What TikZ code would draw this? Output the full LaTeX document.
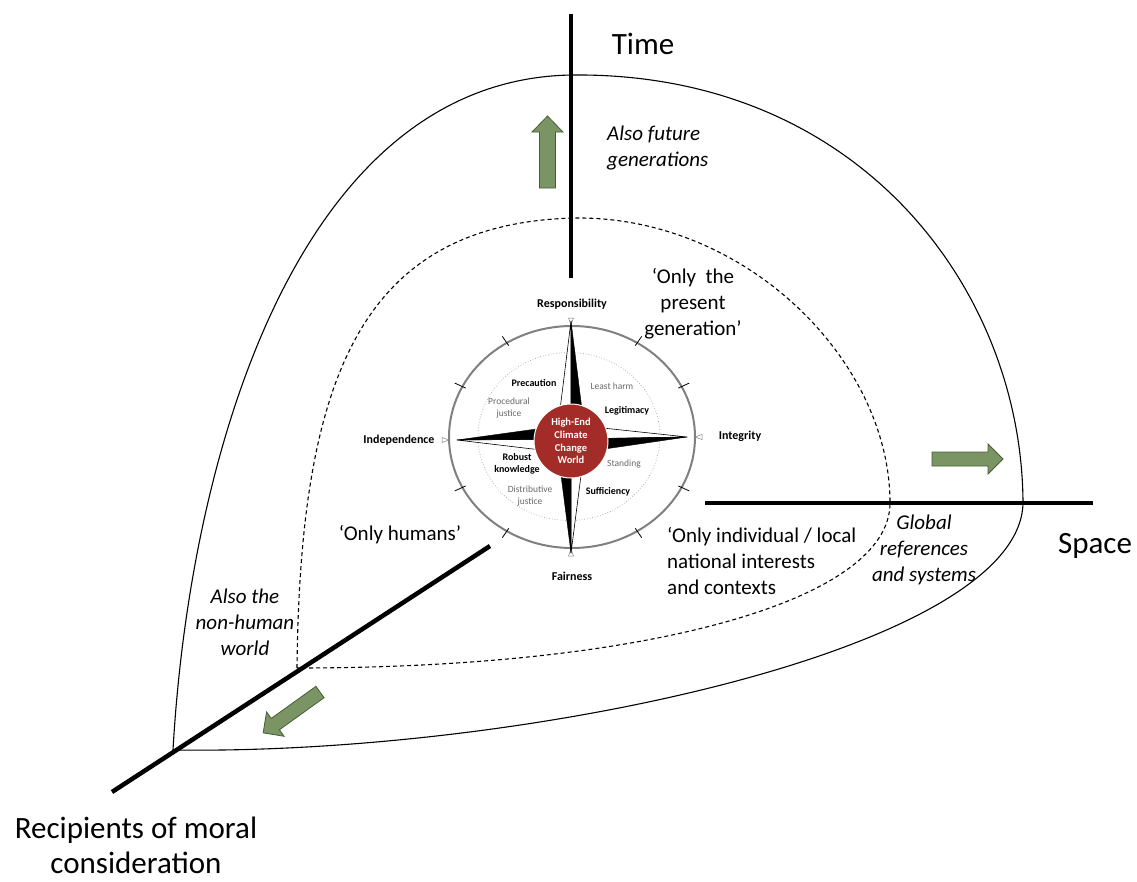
\documentclass[tikz,border=0pt]{standalone}
\usepackage{fontspec}
\setmainfont{Carlito}
\definecolor{arrowgreen}{RGB}{122,148,100}
\definecolor{arrowedge}{RGB}{70,95,55}
\definecolor{compassred}{RGB}{163,44,40}
\definecolor{ringgrey}{RGB}{128,128,128}
\definecolor{labelgrey}{RGB}{105,105,105}
\begin{document}
\begin{tikzpicture}[x=1pt,y=-1pt,
  axis/.style={line width=4.5pt},
  outercurve/.style={line width=1.1pt},
  innercurve/.style={line width=1.1pt, dash pattern=on 4pt off 3pt},
  biglabel/.style={font=\fontsize{31}{35}\selectfont, inner sep=0pt},
  midlabel/.style={font=\fontsize{21}{26}\selectfont, inner sep=0pt},
  itlabel/.style={font=\fontsize{21}{26}\selectfont\itshape, inner sep=0pt},
  mainpt/.style={font=\fontsize{12}{14}\selectfont\bfseries, inner sep=0pt},
  subpt/.style={font=\fontsize{10}{12}\selectfont\bfseries, inner sep=0pt, align=center},
  greypt/.style={font=\fontsize{9.5}{12}\selectfont, text=labelgrey, inner sep=0pt, align=center},
  greenarrow/.style={fill=arrowgreen, draw=arrowedge, line width=0.8pt},
  starblack/.style={fill=black, draw=black, line width=0.4pt, line join=round},
  starwhite/.style={fill=white, draw=black, line width=0.6pt, line join=round},
]
\useasboundingbox (0,0) rectangle (1137,881);
\fill[white] (0,0) rectangle (1137,881);

% outer solid boundary
\coordinate (oc) at (173,750);
\coordinate (otop) at (572,75);
\coordinate (oright) at (1023,503);
\draw[outercurve] (oc) .. controls (190,450) and (300,79) .. (otop)
  .. controls (860,72) and (1022,290) .. (oright)
  .. controls (1020,650) and (520,755) .. (oc);

% inner dashed boundary
\coordinate (ic) at (297,668);
\coordinate (itop) at (575,218);
\coordinate (iright) at (890,503);
\draw[innercurve] (ic) .. controls (300,380) and (360,223) .. (itop)
  .. controls (745,216) and (890,360) .. (iright)
  .. controls (890,600) and (650,668) .. (ic);

% axes
\coordinate (timetop) at (571,14);
\coordinate (timebot) at (571,278);
\coordinate (spaceL) at (705,503);
\coordinate (spaceR) at (1093,503);
\coordinate (recipIn) at (490,546);
\coordinate (recipOut) at (112,792);
\draw[axis] (timebot) -- (timetop);
\draw[axis] (spaceL) -- (spaceR);
\draw[axis] (recipIn) -- (recipOut);

% green arrows
\begin{scope}[shift={(547.5,188)}, rotate=90]
  \filldraw[greenarrow] (0,-8) -- (56,-8) -- (56,-15.5) -- (72,0) -- (56,15.5) -- (56,8) -- (0,8) -- cycle;
\end{scope}
\begin{scope}[shift={(932,459)}]
  \filldraw[greenarrow] (0,-7) -- (56,-7) -- (56,-15) -- (71,0) -- (56,15) -- (56,7) -- (0,7) -- cycle;
\end{scope}
\begin{scope}[shift={(320,692)}, rotate=215.7]
  \filldraw[greenarrow] (0,-7) -- (55,-7) -- (55,-15) -- (70,0) -- (55,15) -- (55,7) -- (0,7) -- cycle;
\end{scope}

% compass
\begin{scope}[shift={(571,439)}]
  \draw[ringgrey, line width=2pt] (1,-2) ellipse [x radius=123, y radius=111];
  \draw[ringgrey!70, dotted, line width=0.7pt] (-2,-2.5) ellipse [x radius=91, y radius=84];
  \foreach \a in {27,58,122,153,-27,-58,-122,-153}
    \draw[line width=0.8pt] ({1+123*0.97*cos(\a)},{-2-111*0.97*sin(\a)}) -- ({1+123*1.07*cos(\a)},{-2-111*1.07*sin(\a)});
  % small markers at the cardinal points
  \draw[ringgrey, line width=0.5pt] (124,-2) -- (131,-4.5) -- (131,0.5) -- cycle;
  \draw[ringgrey, line width=0.5pt] (-122,1) -- (-129,-1.5) -- (-129,3.5) -- cycle;
  \draw[ringgrey, line width=0.5pt] (0,-114) -- (-2.5,-121) -- (2.5,-121) -- cycle;
  \draw[ringgrey, line width=0.5pt] (0,110) -- (-2.5,117) -- (2.5,117) -- cycle;
  % star
  \filldraw[starwhite] (0,0) -- (0,-118) -- (-13,-13) -- cycle;
  \filldraw[starblack] (0,0) -- (0,-118) -- (13,-13) -- cycle;
  \filldraw[starwhite] (0,0) -- (116,-2) -- (13,-13) -- cycle;
  \filldraw[starblack] (0,0) -- (116,-2) -- (13,13) -- cycle;
  \filldraw[starwhite] (0,0) -- (0,114) -- (13,13) -- cycle;
  \filldraw[starblack] (0,0) -- (0,114) -- (-13,13) -- cycle;
  \filldraw[starwhite] (0,0) -- (-114,1) -- (-13,13) -- cycle;
  \filldraw[starblack] (0,0) -- (-114,1) -- (-13,-13) -- cycle;
  \node[circle, fill=compassred, draw=white, line width=1pt, minimum size=74pt, inner sep=0pt,
        text=white, align=center, font=\fontsize{10.5}{12.8}\selectfont\bfseries] (hub) at (0,2)
        {High-End\\Climate\\Change\\World};
\end{scope}

% compass labels
\node[mainpt] (resp) at (572,304) {Responsibility};
\node[mainpt] (fair) at (572,576) {Fairness};
\node[mainpt] (indep) at (399,440) {Independence};
\node[mainpt] (integ) at (740,436) {Integrity};
\node[subpt] (prec) at (534,383) {Precaution};
\node[greypt] (least) at (612,386) {Least harm};
\node[greypt] (proc) at (509,408) {Procedural\\justice};
\node[subpt] (legit) at (627,411) {Legitimacy};
\node[subpt] (robust) at (517,464) {Robust\\knowledge};
\node[greypt] (stand) at (624,464) {Standing};
\node[greypt] (distr) at (530,496) {Distributive\\justice};
\node[subpt] (suff) at (608,492) {Sufficiency};

% main labels
\node[biglabel] (time) at (643,44) {Time};
\node[biglabel] (space) at (1095,546) {Space};
\node[biglabel, align=center] (recip) at (136,845) {Recipients of moral\\consideration};
\node[itlabel, align=left, anchor=west] (future) at (607,148) {Also future\\generations};
\node[midlabel, align=center] (present) at (693,304) {‘Only\ \ the\\present\\generation’};
\node[midlabel] (humans) at (400,535) {‘Only humans’};
\node[midlabel, align=left, anchor=west] (local) at (667,561) {‘Only individual / local\\national interests\\and contexts};
\node[itlabel, align=center] (global) at (924,550) {Global\\references\\and systems};
\node[itlabel, align=center] (nonhuman) at (245,622) {Also the\\non-human\\world};
\end{tikzpicture}
\end{document}
